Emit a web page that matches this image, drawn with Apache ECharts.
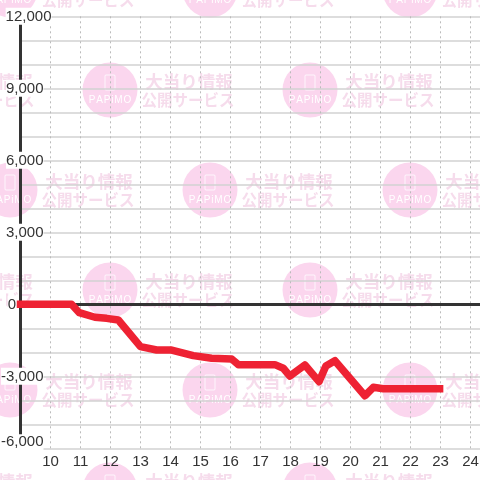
<!DOCTYPE html>
<html><head><meta charset="utf-8">
<style>html,body{margin:0;padding:0;background:#fff}#c{width:480px;height:480px}</style>
<script src="https://cdn.jsdelivr.net/npm/echarts@6/dist/echarts.min.js"></script>
</head><body><div id="c"></div>
<script>
const hours = [9,10.7,10.96,11.48,11.87,12.26,13,13.54,14.04,14.76,15.37,16.04,16.26,17.48,17.76,17.98,18.48,18.95,19.18,19.48,20.48,20.76,21.09,22.97];
const values = [0,0,-350,-540,-585,-655,-1765,-1905,-1905,-2140,-2250,-2280,-2515,-2515,-2665,-2990,-2530,-3225,-2570,-2350,-3810,-3460,-3515,-3515];
const markTiles = [[10,-10],[210,-10],[410,-10],[110,90],[310,90],[-90,90],[10,190],[210,190],[410,190],[110,290],[310,290],[-90,290],[10,390],[210,390],[410,390],[110,490],[310,490],[-90,490]];
const markLine1 = '大当り情報', markLine2 = '公開サービス', markBrand = 'P\u200AA\u200AP\u200Ai\u200AM\u200AO';
const FONT = '"Liberation Sans",Arial,sans-serif', CJK = '"Noto Sans CJK JP",sans-serif';
const graphics = [];
markTiles.forEach(([x,y]) => {
  graphics.push(
    {type:'circle',silent:true,z:-10,shape:{cx:x,cy:y,r:27.5},style:{fill:'#fbd6ee'}},
    {type:'rect',silent:true,z:-9,shape:{x:x-5,y:y-15,width:10,height:15,r:1},style:{fill:'none',stroke:'#fff',lineWidth:0.8}},
    {type:'text',silent:true,z:-9,x:x,y:y+10,style:{text:markBrand,fill:'#fff',font:'10px "Liberation Sans Narrow","Liberation Sans",sans-serif',align:'center',verticalAlign:'middle'}},
    {type:'text',silent:true,z:-10,x:x+79,y:y-9,style:{text:markLine1,fill:'#f6dcec',font:'bold 17.5px '+CJK,align:'center',verticalAlign:'middle'}},
    {type:'text',silent:true,z:-10,x:x+78,y:y+10,style:{text:markLine2,fill:'#f6dcec',font:'bold 15.5px '+CJK,align:'center',verticalAlign:'middle'}}
  );
});
const lab = {color:'#333',fontSize:15,fontFamily:FONT,backgroundColor:'#fff',lineHeight:16,padding:[2,0,0,0]};
const chart = echarts.init(document.getElementById('c'),null,{renderer:'canvas'});
chart.setOption({
  animation:false,
  backgroundColor:'#fff',
  graphic:{elements:graphics},
  grid:{left:20.5,top:16.3,width:480,height:432,outerBoundsMode:'none'},
  xAxis:[{
    type:'value',min:9,max:25,interval:1,
    axisLine:{show:false,onZero:false},axisTick:{show:false},
    axisLabel:{color:'#333',fontSize:15,fontFamily:FONT,margin:6,formatter:v=>(v===9||v===25)?'':String(v)},
    splitLine:{show:true,lineStyle:{color:'#bbb',width:1,type:[2,3]}}
  },{
    type:'value',min:9,max:25,interval:1,position:'bottom',
    axisLine:{show:true,onZero:true,lineStyle:{color:'#333',width:3}},
    axisTick:{show:false},axisLabel:{show:false},splitLine:{show:false}
  }],
  yAxis:{
    type:'value',min:-6000,max:12000,interval:1000,
    axisLine:{show:true,lineStyle:{color:'#333',width:3}},
    axisTick:{show:false},
    axisLabel:{
      margin:-31,align:'right',
      formatter:v=>{
        if(v%3000!==0) return '';
        const s=v.toLocaleString('en-US');
        if(v===12000) return `{a|${s}}`;
        if(v===0) return `{a|${s}}{z|}`;
        if(v===-6000) return `{b|${s}}{s|}`;
        return `{a|${s}}{s|}`;
      },
      rich:{a:lab,b:Object.assign({},lab,{padding:[0,0,13,0]}),s:{width:8},z:{width:35.5}}
    },
    splitLine:{show:true,lineStyle:{color:'#d2d2d2',width:1.5}}
  },
  series:[{
    type:'line',xAxisIndex:0,data:hours.map((h,i)=>[h,values[i]]),
    showSymbol:false,symbol:'none',smooth:false,clip:false,z:5,
    lineStyle:{color:'#ee2233',width:7.5,cap:'square',join:'round'}
  }]
});
</script></body></html>
